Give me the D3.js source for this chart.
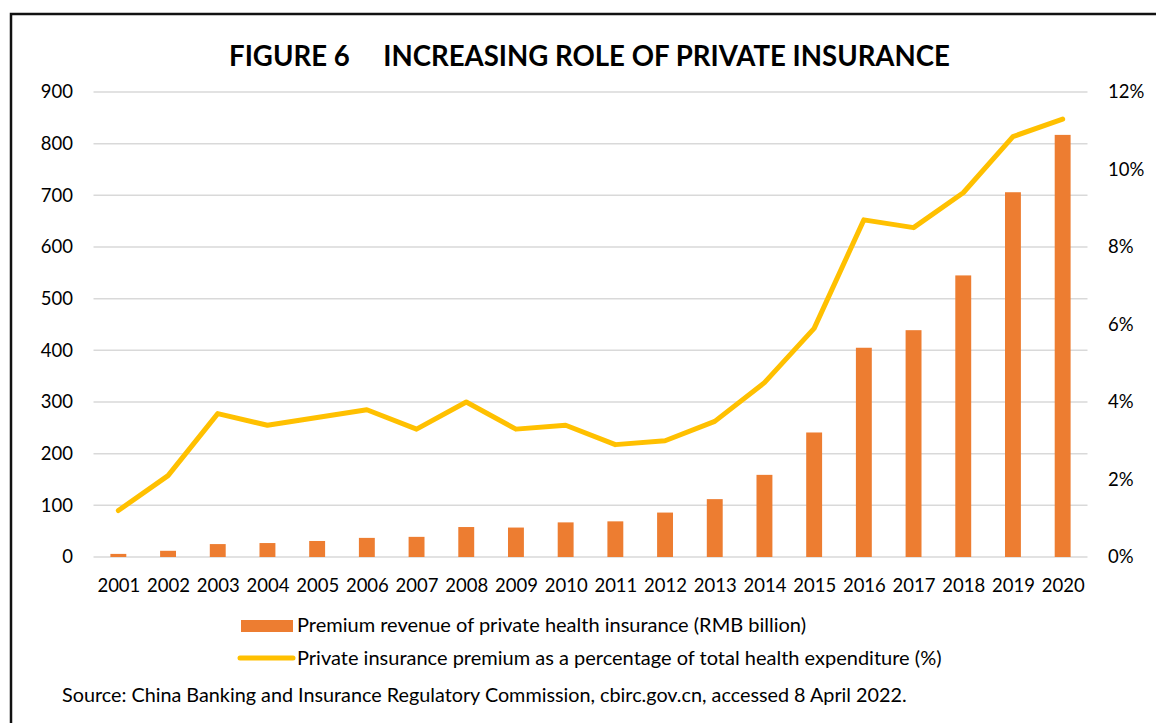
<!DOCTYPE html>
<html><head><meta charset="utf-8">
<script src="https://cdn.jsdelivr.net/npm/d3@7/dist/d3.min.js"></script>
<style>body{margin:0;background:#fff;} svg{display:block;} text{font-family:Lato, "Open Sans", sans-serif;fill:#000;}</style>
</head><body><svg id="c" width="1156" height="723"></svg>
<script>
const years = ["2001","2002","2003","2004","2005","2006","2007","2008","2009","2010","2011","2012","2013","2014","2015","2016","2017","2018","2019","2020"];
const premium = [6,12,25,27,31,37,39,58,57,67,69,86,112,159,241,405,439,545,706,817];
const share = [1.2,2.1,3.7,3.4,3.6,3.8,3.3,4.0,3.3,3.4,2.9,3.0,3.5,4.5,5.9,8.7,8.5,9.4,10.85,11.3];
const leftTicks = [0,100,200,300,400,500,600,700,800,900];
const rightTicks = [0,2,4,6,8,10,12];
const title = "FIGURE 6     INCREASING ROLE OF PRIVATE INSURANCE";
const legendBar = "Premium revenue of private health insurance (RMB billion)";
const legendLine = "Private insurance premium as a percentage of total health expenditure (%)";
const source = "Source: China Banking and Insurance Regulatory Commission, cbirc.gov.cn, accessed 8 April 2022.";

const svg = d3.select("#c");
const BAR = "#ED7D31", LINE = "#FFC000", GRID = "#d9d9d9";

// border
svg.append("rect").attr("x",11).attr("y",14).attr("width",1200).attr("height",800)
  .attr("fill","none").attr("stroke","#111").attr("stroke-width",2.5);

const x = d3.scaleBand().domain(years).range([93.5,1087.5]).paddingInner(0.68).paddingOuter(0.34);
const xc = d3.scalePoint().domain(years).range([93.5,1087.5]).padding(0.5);
const yL = d3.scaleLinear().domain([0,900]).range([557,92]);
const yR = d3.scaleLinear().domain([0,12]).range([557,92]);

// grid
svg.append("g").selectAll("line").data(leftTicks).join("line")
  .attr("x1",93.5).attr("x2",1087.5).attr("y1",d=>yL(d)).attr("y2",d=>yL(d))
  .attr("stroke",GRID).attr("stroke-width",1.5);

// left axis labels
const gl = svg.append("g").attr("transform","translate(73,0)")
  .call(d3.axisLeft(yL).tickValues(leftTicks).tickSize(0).tickPadding(0));
gl.select(".domain").remove();
gl.selectAll("text").attr("font-size",18.5).attr("font-family","Lato").attr("fill","#000");

// right axis labels
const gr = svg.append("g").attr("transform","translate(1108,0)")
  .call(d3.axisRight(yR).tickValues(rightTicks).tickFormat(d=>d+"%").tickSize(0).tickPadding(0));
gr.select(".domain").remove();
gr.selectAll("text").attr("font-size",18.5).attr("font-family","Lato").attr("fill","#000");

// bottom axis
const gb = svg.append("g").attr("transform","translate(0,557)")
  .call(d3.axisBottom(xc).tickSize(0).tickPadding(22));
gb.select(".domain").remove();
gb.selectAll("text").attr("font-size",18.5).attr("font-family","Lato").attr("fill","#000");

// bars
svg.append("g").selectAll("rect").data(premium).join("rect")
  .attr("x",(d,i)=>x(years[i])).attr("width",x.bandwidth())
  .attr("y",d=>yL(d)).attr("height",d=>yL(0)-yL(d)).attr("fill",BAR);

// line
svg.append("path").datum(share)
  .attr("d",d3.line().x((d,i)=>xc(years[i])).y(d=>yR(d)))
  .attr("fill","none").attr("stroke",LINE).attr("stroke-width",5)
  .attr("stroke-linecap","round").attr("stroke-linejoin","round");

// title
svg.append("text").attr("x",589.5).attr("y",66).attr("text-anchor","middle")
  .attr("font-size",27.6).attr("font-weight","bold").attr("xml:space","preserve")
  .style("white-space","pre").text(title);

// legend
svg.append("rect").attr("x",241).attr("y",620).attr("width",52).attr("height",12).attr("fill",BAR);
svg.append("text").attr("x",297).attr("y",632).attr("font-size",20).text(legendBar);
svg.append("line").attr("x1",240).attr("x2",293).attr("y1",658).attr("y2",658)
  .attr("stroke",LINE).attr("stroke-width",5).attr("stroke-linecap","round");
svg.append("text").attr("x",297).attr("y",665).attr("font-size",20).text(legendLine);

svg.append("text").attr("x",62).attr("y",702).attr("font-size",19.8).text(source);
</script></body></html>
